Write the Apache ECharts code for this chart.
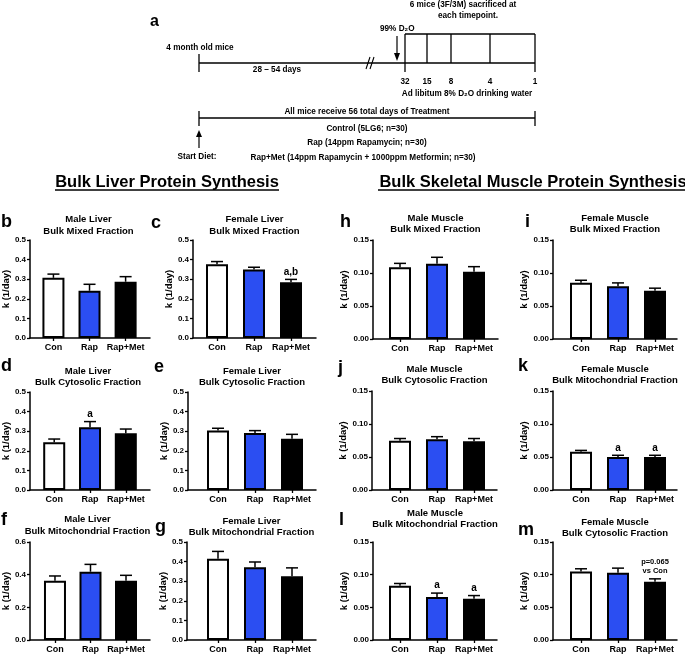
<!DOCTYPE html>
<html><head><meta charset="utf-8">
<script src="https://cdn.jsdelivr.net/npm/echarts@6/dist/echarts.min.js"></script>
<style>html,body{margin:0;padding:0;background:#fff}#c{width:685px;height:656px}</style>
</head><body><div id="c"></div>
<script>
// ---------- data ----------
const categories = ['Con', 'Rap', 'Rap+Met'];
const groupColors = ['#ffffff', '#2b4ef2', '#000000'];

const maleLiverMixed = [0.307, 0.241, 0.287];
const maleLiverMixedSem = [0.019, 0.033, 0.026];
const femaleLiverMixed = [0.376, 0.350, 0.284];
const femaleLiverMixedSem = [0.014, 0.011, 0.015];
const maleLiverCyto = [0.243, 0.320, 0.289];
const maleLiverCytoSem = [0.017, 0.029, 0.022];
const femaleLiverCyto = [0.303, 0.291, 0.262];
const femaleLiverCytoSem = [0.012, 0.012, 0.022];
const maleLiverMito = [0.363, 0.418, 0.363];
const maleLiverMitoSem = [0.029, 0.045, 0.033];
const femaleLiverMito = [0.415, 0.371, 0.325];
const femaleLiverMitoSem = [0.037, 0.027, 0.043];

const maleMuscleMixed = [0.1086, 0.114, 0.102];
const maleMuscleMixedSem = [0.006, 0.0098, 0.0076];
const femaleMuscleMixed = [0.0853, 0.080, 0.073];
const femaleMuscleMixedSem = [0.0037, 0.005, 0.004];
const maleMuscleCyto = [0.0747, 0.0768, 0.0738];
const maleMuscleCytoSem = [0.0033, 0.004, 0.0042];
const femaleMuscleMito = [0.058, 0.050, 0.050];
const femaleMuscleMitoSem = [0.002, 0.0026, 0.0026];
const maleMuscleMito = [0.0829, 0.066, 0.063];
const maleMuscleMitoSem = [0.0036, 0.0058, 0.005];
const femaleMuscleCyto = [0.105, 0.103, 0.089];
const femaleMuscleCytoSem = [0.004, 0.007, 0.0046];

const annC = ['', '', 'a,b'];
const annD = ['', 'a', ''];
const annK = ['', 'a', 'a'];
const annL = ['', 'a', 'a'];
const annM = ['', '', 'p=0.065\nvs Con'];
const none = ['', '', ''];

// ---------- layout ----------
const FF = '"Liberation Sans", Arial, sans-serif';
const SP = 37; // px between category centres
const panels = [
  {letter:'b', t:['Male Liver','Bulk Mixed Fraction'], m:maleLiverMixed, s:maleLiverMixedSem, a:none, max:0.5, iv:0.1, dec:1, g:[27,150,51,240,338], ty:[219,231], lp:[1,222], ng:13},
  {letter:'c', t:['Female Liver','Bulk Mixed Fraction'], m:femaleLiverMixed, s:femaleLiverMixedSem, a:annC, max:0.5, iv:0.1, dec:1, g:[193,316,217,240,338], ty:[219,231], lp:[151,223], ng:15},
  {letter:'d', t:['Male Liver','Bulk Cytosolic Fraction'], m:maleLiverCyto, s:maleLiverCytoSem, a:annD, max:0.5, iv:0.1, dec:1, g:[26,150,51,392,490], ty:[371,382], lp:[1,366], ng:12},
  {letter:'e', t:['Female Liver','Bulk Cytosolic Fraction'], m:femaleLiverCyto, s:femaleLiverCytoSem, a:none, max:0.5, iv:0.1, dec:1, g:[188,316,218,392,490], ty:[371,382], lp:[154,367], ng:12},
  {letter:'f', t:['Male Liver','Bulk Mitochondrial Fraction'], m:maleLiverMito, s:maleLiverMitoSem, a:none, max:0.6, iv:0.2, dec:1, g:[25,150,51,542,640], ty:[519,531], lp:[1,520], ng:12},
  {letter:'g', t:['Female Liver','Bulk Mitochondrial Fraction'], m:femaleLiverMito, s:femaleLiverMitoSem, a:none, max:0.5, iv:0.1, dec:1, g:[187,316,218,542,640], ty:[521,532], lp:[155,527], ng:12},
  {letter:'h', t:['Male Muscle','Bulk Mixed Fraction'], m:maleMuscleMixed, s:maleMuscleMixedSem, a:none, max:0.15, iv:0.05, dec:2, g:[373,498,400,240,339], ty:[218,229], lp:[340,222], ng:15},
  {letter:'i', t:['Female Muscle','Bulk Mixed Fraction'], m:femaleMuscleMixed, s:femaleMuscleMixedSem, a:none, max:0.15, iv:0.05, dec:2, g:[553,677,581,240,339], ty:[218,229], lp:[525,222], ng:14},
  {letter:'j', t:['Male Muscle','Bulk Cytosolic Fraction'], m:maleMuscleCyto, s:maleMuscleCytoSem, a:none, max:0.15, iv:0.05, dec:2, g:[372,497,400,391,490], ty:[369,380], lp:[338,368], ng:15},
  {letter:'k', t:['Female Muscle','Bulk Mitochondrial Fraction'], m:femaleMuscleMito, s:femaleMuscleMitoSem, a:annK, max:0.15, iv:0.05, dec:2, g:[553,677,581,391,490], ty:[369,380], lp:[518,366], ng:14},
  {letter:'l', t:['Male Muscle','Bulk Mitochondrial Fraction'], m:maleMuscleMito, s:maleMuscleMitoSem, a:annL, max:0.15, iv:0.05, dec:2, g:[373,497,400,542,640], ty:[513,524], lp:[339,520], ng:15},
  {letter:'m', t:['Female Muscle','Bulk Cytosolic Fraction'], m:femaleMuscleCyto, s:femaleMuscleCytoSem, a:annM, max:0.15, iv:0.05, dec:2, g:[553,677,581,542,640], ty:[522,533], lp:[518,530], ng:14}
];

const grids = [], xAxes = [], yAxes = [], series = [], graphic = [];
const txt = (text, x, y, size, align) => ({
  type:'text', silent:true,
  style:{text, x, y, fill:'#000', font:'bold ' + size + 'px ' + FF, align: align || 'center', verticalAlign:'middle'}
});

panels.forEach((p, i) => {
  const [L, R, C, T, B] = p.g;
  grids.push({left:L, top:T, width:R - L, height:B - T, containLabel:false});
  xAxes.push({
    type:'value', gridIndex:i, min:-(C - L) / SP, max:2 + (R - (C + 2 * SP)) / SP,
    axisLine:{show:true, onZero:false, lineStyle:{color:'#000', width:1.5}},
    axisTick:{show:true, customValues:[0,1,2], length:3, lineStyle:{color:'#000', width:1.3}},
    axisLabel:{show:true, customValues:[0,1,2], formatter:v => categories[Math.round(v)], color:'#000', fontWeight:'bold', fontSize:9, fontFamily:FF, margin:5},
    splitLine:{show:false}
  });
  yAxes.push({
    type:'value', gridIndex:i, min:0, max:p.max, interval:p.iv,
    name:'k (1/day)', nameLocation:'middle', nameGap:p.ng,
    nameTextStyle:{color:'#000', fontWeight:'bold', fontSize:9.5, fontFamily:FF},
    axisLine:{show:true, onZero:false, lineStyle:{color:'#000', width:1.5}},
    axisTick:{show:true, length:3, lineStyle:{color:'#000', width:1.3}},
    axisLabel:{color:'#000', fontWeight:'bold', fontSize:8, fontFamily:FF, margin:4, formatter:v => v.toFixed(p.dec)},
    splitLine:{show:false}
  });
  series.push({
    type:'bar', xAxisIndex:i, yAxisIndex:i, barWidth:22, animation:false,
    data:p.m.map((v, k) => ({value:[k, v], itemStyle:{color:groupColors[k], borderColor:'#000', borderWidth:2}}))
  });
  series.push({
    type:'custom', xAxisIndex:i, yAxisIndex:i, z:5, animation:false,
    data:p.m.map((v, k) => [k, v, p.s[k]]),
    renderItem:(params, api) => {
      const x = api.value(0), v = api.value(1), e = api.value(2);
      const p0 = api.coord([x, v]), p1 = api.coord([x, v + e]);
      const children = [
        {type:'line', shape:{x1:p0[0], y1:p0[1], x2:p1[0], y2:p1[1]}, style:{stroke:'#000', lineWidth:1.5}},
        {type:'line', shape:{x1:p1[0] - 6, y1:p1[1], x2:p1[0] + 6, y2:p1[1]}, style:{stroke:'#000', lineWidth:1.5}}
      ];
      const an = p.a[params.dataIndex];
      if (an) {
        const small = an.length > 4;
        children.push({type:'text', style:{text:an, x:p1[0], y:p1[1] - (small ? 3 : 2), align:'center', verticalAlign:'bottom',
          fill:'#000', font:'bold ' + (small ? 7.5 : 10) + 'px ' + FF, lineHeight: small ? 9 : 11}});
      }
      return {type:'group', children};
    }
  });
  const cx = (L + R) / 2;
  graphic.push(txt(p.t[0], cx, p.ty[0], 9.5));
  graphic.push(txt(p.t[1], cx, p.ty[1], 9.5));
  graphic.push(txt(p.letter, p.lp[0], p.lp[1], 18, 'left'));
});

// ---------- section headers ----------
graphic.push(txt('Bulk Liver Protein Synthesis', 167, 182, 16.5));
graphic.push({type:'line', silent:true, shape:{x1:55, y1:190, x2:279, y2:190}, style:{stroke:'#000', lineWidth:1.3}});
graphic.push(txt('Bulk Skeletal Muscle Protein Synthesis', 533, 182, 16.5));
graphic.push({type:'line', silent:true, shape:{x1:378, y1:190, x2:685, y2:190}, style:{stroke:'#000', lineWidth:1.3}});

// ---------- schematic (panel a) ----------
const ln = (x1, y1, x2, y2, w) => ({type:'line', silent:true, shape:{x1, y1, x2, y2}, style:{stroke:'#000', lineWidth:w || 1.3}});
const FS = 8.2;
graphic.push(txt('a', 150, 22, 16, 'left'));
graphic.push(txt('6 mice (3F/3M) sacrificed at', 463, 5, FS));
graphic.push(txt('each timepoint.', 468, 16, FS));
graphic.push(txt('99% D\u2082O', 380, 29, FS, 'left'));
graphic.push(ln(397, 36, 397, 55, 1.2));
graphic.push({type:'polygon', silent:true, shape:{points:[[397,61],[394,53],[400,53]]}, style:{fill:'#000'}});
graphic.push(ln(405, 34, 535, 34));
graphic.push(ln(405, 34, 405, 72));
graphic.push(ln(535, 34, 535, 72));
graphic.push(ln(427, 34, 427, 63));
graphic.push(ln(451, 34, 451, 63));
graphic.push(ln(490, 34, 490, 63));
graphic.push(ln(199, 63, 535, 63));
graphic.push(ln(199, 54, 199, 72));
graphic.push(ln(366, 69, 370, 57, 1.1));
graphic.push(ln(370, 69, 374, 57, 1.1));
graphic.push(txt('4 month old mice', 200, 48, FS));
graphic.push(txt('28 \u2013 54 days', 277, 70, FS));
[['32',405],['15',427],['8',451],['4',490],['1',535]].forEach(d => graphic.push(txt(d[0], d[1], 82, FS)));
graphic.push(txt('Ad libitum 8% D\u2082O drinking water', 467, 94, FS));
graphic.push(txt('All mice receive 56 total days of Treatment', 367, 112, FS));
graphic.push(ln(199, 118, 535, 118));
graphic.push(ln(199, 111, 199, 126));
graphic.push(ln(535, 111, 535, 126));
graphic.push(txt('Control (5LG6; n=30)', 367, 129, FS));
graphic.push(txt('Rap (14ppm Rapamycin; n=30)', 367, 143, FS));
graphic.push(txt('Rap+Met (14ppm Rapamycin + 1000ppm Metformin; n=30)', 363, 158, FS));
graphic.push(ln(199, 148, 199, 136, 1.2));
graphic.push({type:'polygon', silent:true, shape:{points:[[199,130],[196,137],[202,137]]}, style:{fill:'#000'}});
graphic.push(txt('Start Diet:', 197, 157, FS));

const chart = echarts.init(document.getElementById('c'), null, {renderer:'canvas'});
chart.setOption({backgroundColor:'#fff', animation:false, grid:grids, xAxis:xAxes, yAxis:yAxes, series, graphic});
</script></body></html>
